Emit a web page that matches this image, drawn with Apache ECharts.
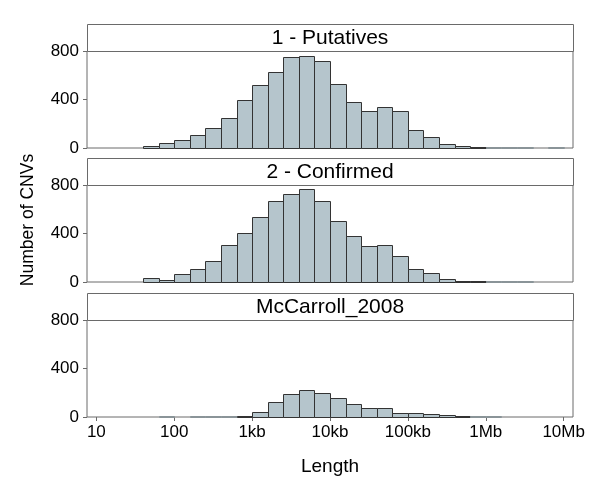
<!DOCTYPE html>
<html>
<head>
<meta charset="utf-8">
<script src="https://cdn.jsdelivr.net/npm/echarts@6/dist/echarts.min.js"></script>
<style>
html,body{margin:0;padding:0;background:#fff;}
#chart{width:600px;height:484px;}
</style>
</head>
<body>
<div id="chart"></div>
<script>
// log10(length) lower edge of each bin; each bin spans 0.2 decades
const binLow = [1.6,1.8,2.0,2.2,2.4,2.6,2.8,3.0,3.2,3.4,3.6,3.8,4.0,4.2,4.4,4.6,4.8,5.0,5.2,5.4,5.6,5.8,6.0,6.2,6.4,6.6,6.8];
const binHigh = [1.8,2.0,2.2,2.4,2.6,2.8,3.0,3.2,3.4,3.6,3.8,4.0,4.2,4.4,4.6,4.8,5.0,5.2,5.4,5.6,5.8,6.0,6.2,6.4,6.6,6.8,7.0];

const panelTitles = ['1 - Putatives', '2 - Confirmed', 'McCarroll_2008'];

const putatives = [20,39,62,106,165,246,397,520,624,747,758,716,529,380,308,338,305,146,88,36,14,6,3,2,1,0,1];
const confirmed = [34,14,70,110,177,303,404,539,668,722,770,666,506,379,295,303,211,110,73,28,8,5,3,2,1,0,0];
const mccarroll = [0,1,0,1,1,2,6,39,123,189,223,198,159,106,73,72,31,29,21,15,7,2,2,0,0,0,0];

const xTickValues = [1,2,3,4,5,6,7];
const xTickLabels = ['10','100','1kb','10kb','100kb','1Mb','10Mb'];
const yTickValues = [0,400,800];

const panelValues = [putatives, confirmed, mccarroll];

const FONT = 'Liberation Sans, Arial, Helvetica, sans-serif';
const FRAME = '#6a6a6a';
const FILL = '#b5c5cc';
const EDGE = '#333333';

const gridTops = [51, 185, 320];
const gridLeft = 87, gridWidth = 486, gridHeight = 97;
const stripH = 27;

const chart = echarts.init(document.getElementById('chart'), null, {renderer: 'canvas'});

const grids = [], xAxes = [], yAxes = [], series = [], graphics = [];

panelValues.forEach((vals, i) => {
  grids.push({
    left: gridLeft, top: gridTops[i], width: gridWidth, height: gridHeight,
    show: true, borderColor: FRAME, borderWidth: 1, backgroundColor: 'transparent'
  });
  const isLast = i === panelValues.length - 1;
  xAxes.push({
    type: 'value', gridIndex: i, min: 0.88, max: 7.12,
    axisLine: {show: false},
    splitLine: {show: false},
    axisTick: {show: isLast, length: 4, lineStyle: {color: FRAME}, customValues: xTickValues},
    axisLabel: {
      show: isLast, customValues: xTickValues, margin: 7,
      color: '#000', fontFamily: FONT, fontSize: 17,
      formatter: v => { const k = xTickValues.indexOf(Math.round(v)); return k >= 0 ? xTickLabels[k] : ''; }
    }
  });
  yAxes.push({
    type: 'value', gridIndex: i, min: 0, max: 800,
    axisLine: {show: false},
    splitLine: {show: false},
    axisTick: {show: true, length: 4, lineStyle: {color: FRAME}, customValues: yTickValues},
    axisLabel: {customValues: yTickValues, margin: 8, color: '#000', fontFamily: FONT, fontSize: 17}
  });
  series.push({
    type: 'custom', xAxisIndex: i, yAxisIndex: i,
    data: vals.map((v, k) => [binLow[k], binHigh[k], v]),
    encode: {x: [0, 1], y: 2},
    renderItem: (params, api) => {
      const v = api.value(2);
      if (!v) return null;
      const p0 = api.coord([api.value(0), 0]);
      const p1 = api.coord([api.value(1), v]);
      const x0 = Math.round(p0[0]) + 0.5, x1 = Math.round(p1[0]) + 0.5;
      const yb = Math.round(p0[1]) + 0.5, yt = Math.round(p1[1]) + 0.5;
      const tiny = (yb - yt) < 1;
      return {
        type: 'rect',
        shape: {x: x0, y: tiny ? yb - 1 : yt, width: x1 - x0, height: tiny ? 1 : yb - yt},
        style: {fill: FILL, stroke: tiny ? '#8a9498' : EDGE, lineWidth: 1}
      };
    },
    silent: true, animation: false
  });
  const sy = gridTops[i] - stripH;
  graphics.push({
    type: 'rect', silent: true,
    shape: {x: gridLeft + 0.5, y: sy + 0.5, width: gridWidth, height: stripH},
    style: {fill: '#fff', stroke: FRAME, lineWidth: 1}
  });
  graphics.push({
    type: 'text', silent: true,
    x: gridLeft + gridWidth / 2, y: sy + stripH / 2 + 1,
    style: {text: panelTitles[i], font: '21px ' + FONT, fill: '#000', align: 'center', verticalAlign: 'middle'}
  });
});

graphics.push({
  type: 'text', silent: true, x: 28, y: 220, rotation: Math.PI / 2,
  style: {text: 'Number of CNVs', font: '17.5px ' + FONT, fill: '#000', align: 'center', verticalAlign: 'middle'}
});
graphics.push({
  type: 'text', silent: true, x: 330, y: 467,
  style: {text: 'Length', font: '19px ' + FONT, fill: '#000', align: 'center', verticalAlign: 'middle'}
});

chart.setOption({
  animation: false,
  backgroundColor: '#fff',
  grid: grids,
  xAxis: xAxes,
  yAxis: yAxes,
  series: series,
  graphic: graphics
});
</script>
</body>
</html>
